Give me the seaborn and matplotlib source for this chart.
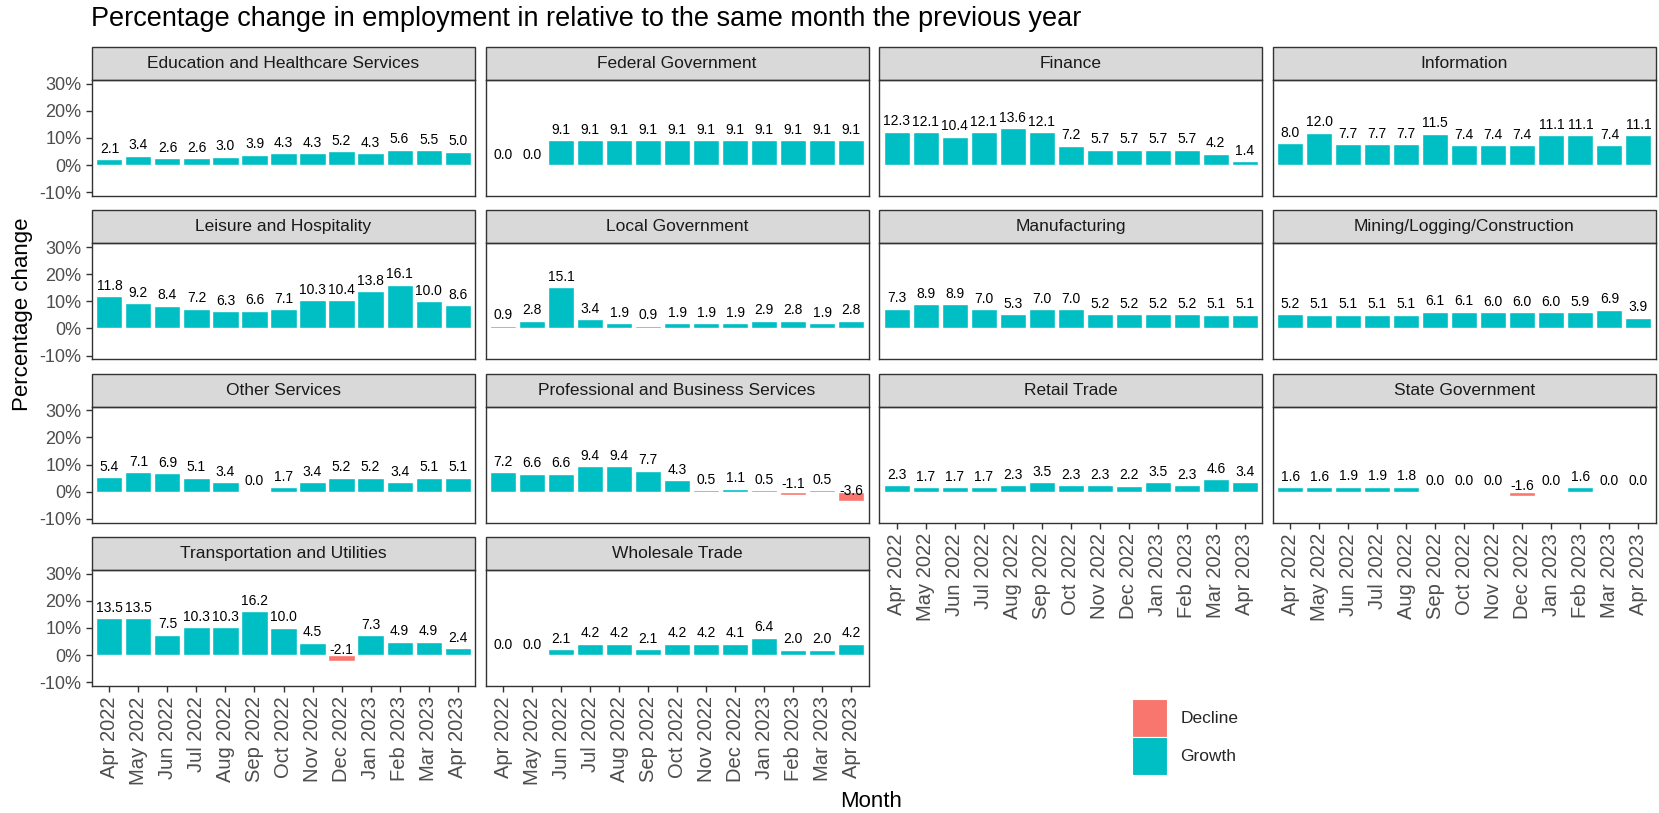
import numpy as np
import pandas as pd
import matplotlib.pyplot as plt
import seaborn as sns
from matplotlib.patches import Rectangle, Patch
from matplotlib.ticker import FuncFormatter

# ----------------------------
# Data (percentage change vs same month previous year)
# ----------------------------
months = ["Apr 2022", "May 2022", "Jun 2022", "Jul 2022", "Aug 2022", "Sep 2022",
          "Oct 2022", "Nov 2022", "Dec 2022", "Jan 2023", "Feb 2023", "Mar 2023", "Apr 2023"]

sectors = ["Education and Healthcare Services", "Federal Government", "Finance", "Information",
           "Leisure and Hospitality", "Local Government", "Manufacturing",
           "Mining/Logging/Construction", "Other Services", "Professional and Business Services",
           "Retail Trade", "State Government", "Transportation and Utilities", "Wholesale Trade"]

education = [2.1, 3.4, 2.6, 2.6, 3.0, 3.9, 4.3, 4.3, 5.2, 4.3, 5.6, 5.5, 5.0]
federal = [0.0, 0.0, 9.1, 9.1, 9.1, 9.1, 9.1, 9.1, 9.1, 9.1, 9.1, 9.1, 9.1]
finance = [12.3, 12.1, 10.4, 12.1, 13.6, 12.1, 7.2, 5.7, 5.7, 5.7, 5.7, 4.2, 1.4]
information = [8.0, 12.0, 7.7, 7.7, 7.7, 11.5, 7.4, 7.4, 7.4, 11.1, 11.1, 7.4, 11.1]
leisure = [11.8, 9.2, 8.4, 7.2, 6.3, 6.6, 7.1, 10.3, 10.4, 13.8, 16.1, 10.0, 8.6]
local_gov = [0.9, 2.8, 15.1, 3.4, 1.9, 0.9, 1.9, 1.9, 1.9, 2.9, 2.8, 1.9, 2.8]
manufacturing = [7.3, 8.9, 8.9, 7.0, 5.3, 7.0, 7.0, 5.2, 5.2, 5.2, 5.2, 5.1, 5.1]
mining = [5.2, 5.1, 5.1, 5.1, 5.1, 6.1, 6.1, 6.0, 6.0, 6.0, 5.9, 6.9, 3.9]
other = [5.4, 7.1, 6.9, 5.1, 3.4, 0.0, 1.7, 3.4, 5.2, 5.2, 3.4, 5.1, 5.1]
professional = [7.2, 6.6, 6.6, 9.4, 9.4, 7.7, 4.3, 0.5, 1.1, 0.5, -1.1, 0.5, -3.6]
retail = [2.3, 1.7, 1.7, 1.7, 2.3, 3.5, 2.3, 2.3, 2.2, 3.5, 2.3, 4.6, 3.4]
state_gov = [1.6, 1.6, 1.9, 1.9, 1.8, 0.0, 0.0, 0.0, -1.6, 0.0, 1.6, 0.0, 0.0]
transport = [13.5, 13.5, 7.5, 10.3, 10.3, 16.2, 10.0, 4.5, -2.1, 7.3, 4.9, 4.9, 2.4]
wholesale = [0.0, 0.0, 2.1, 4.2, 4.2, 2.1, 4.2, 4.2, 4.1, 6.4, 2.0, 2.0, 4.2]

series = [education, federal, finance, information, leisure, local_gov, manufacturing,
          mining, other, professional, retail, state_gov, transport, wholesale]

rows = []
for sector, values in zip(sectors, series):
    for m, v in zip(months, values):
        rows.append({"Sector": sector, "Month": m, "Change": v,
                     "Direction": "Decline" if v < 0 else "Growth"})
df = pd.DataFrame(rows)

palette = {"Decline": "#F8766D", "Growth": "#00BFC4"}

# ----------------------------
# Faceted bar chart
# ----------------------------
sns.set_theme(style="white")
plt.rcParams["font.family"] = ["Liberation Sans", "DejaVu Sans"]

W, H = 1659, 813
fig = plt.figure(figsize=(W / 100, H / 100), dpi=100)

left0, top0 = 92, 80
col_pitch, row_pitch = 393.6, 163.3
pw, ph = 383, 116
strip_h = 33

for i, sector in enumerate(sectors):
    r, c = divmod(i, 4)
    left = left0 + c * col_pitch
    top = top0 + r * row_pitch
    ax = fig.add_axes([left / W, 1 - (top + ph) / H, pw / W, ph / H])
    sub = df[df["Sector"] == sector]
    sns.barplot(data=sub, x="Month", y="Change", hue="Direction", order=months,
                hue_order=["Decline", "Growth"], palette=palette, dodge=False,
                width=0.9, saturation=1, errorbar=None, legend=False, ax=ax)
    for j, v in enumerate(sub["Change"]):
        ax.annotate(f"{v:.1f}", (j, v), xytext=(0, 2.5), textcoords="offset points",
                    ha="center", va="bottom", fontsize=10, color="black")

    ax.set_xlim(-0.6, 12.6)
    ax.set_ylim(-11.4, 31.4)
    ax.set_yticks([-10, 0, 10, 20, 30])
    ax.yaxis.set_major_formatter(FuncFormatter(lambda v, p: f"{v:.0f}%"))
    ax.set_xlabel("")
    ax.set_ylabel("")
    for s in ax.spines.values():
        s.set_color("#333333")
        s.set_linewidth(1.0)

    ax.tick_params(axis="both", length=4, width=1, color="#333333")
    if c == 0:
        ax.tick_params(axis="y", labelsize=13, labelcolor="#4D4D4D", left=True)
    else:
        ax.tick_params(axis="y", left=False, labelleft=False)
    if i >= len(sectors) - 4:
        ax.tick_params(axis="x", bottom=True, labelbottom=True)
        ax.set_xticks(range(len(months)))
        ax.set_xticklabels(months, rotation=90, ha="center", va="top",
                           fontsize=14.5, color="#4D4D4D")
    else:
        ax.tick_params(axis="x", bottom=False, labelbottom=False)

    # facet strip
    sh = strip_h / ph
    ax.add_patch(Rectangle((0, 1), 1, sh, transform=ax.transAxes, facecolor="#D9D9D9",
                           edgecolor="#333333", linewidth=1.0, clip_on=False))
    ax.text(0.5, 1 + sh / 2, sector, transform=ax.transAxes, ha="center", va="center",
            fontsize=12.5, color="#1A1A1A")

fig.text(91 / W, 1 - 19 / H, "Percentage change in employment in relative to the same month the previous year",
         ha="left", va="center", fontsize=19.5, color="black")
fig.text(23 / W, 1 - 314 / H, "Percentage change", rotation=90, ha="center", va="center",
         fontsize=16, color="black")
fig.text(871 / W, 1 - 801 / H, "Month", ha="center", va="center", fontsize=16, color="black")

handles = [Patch(facecolor=palette["Decline"], edgecolor="white", linewidth=0.8),
           Patch(facecolor=palette["Growth"], edgecolor="white", linewidth=0.8)]
fig.legend(handles, ["Decline", "Growth"], loc="upper left",
           bbox_to_anchor=(1132 / W, 1 - 699 / H), frameon=False, fontsize=12.5,
           handlelength=2.0, handleheight=2.95, labelspacing=0.05, handletextpad=0.8,
           borderpad=0, borderaxespad=0)

fig.savefig("out.png", dpi=100)
